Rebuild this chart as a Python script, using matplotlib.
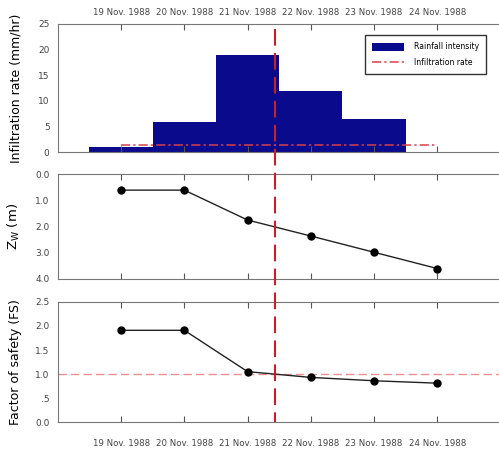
import matplotlib.pyplot as plt
import matplotlib.transforms as mtransforms
from matplotlib.lines import Line2D

dates = ['19 Nov. 1988', '20 Nov. 1988', '21 Nov. 1988',
         '22 Nov. 1988', '23 Nov. 1988', '24 Nov. 1988']
day = [1, 2, 3, 4, 5, 6]
rainfall = [1.0, 5.8, 18.9, 12.0, 6.5, 0.1]
infiltration = [1.3, 1.3]
infil_days = [1, 6]
zw = [0.61, 0.61, 1.75, 2.36, 2.98, 3.6]
fs = [1.91, 1.91, 1.05, 0.93, 0.86, 0.81]
failure_day = 3.43

plt.rcParams['font.family'] = 'DejaVu Sans'
tick_col = '#444444'

fig = plt.figure(figsize=(4.99, 4.5), dpi=100)
ax1 = fig.add_axes([0.116, 0.662, 0.887, 0.285])
ax2 = fig.add_axes([0.116, 0.380, 0.887, 0.233])
ax3 = fig.add_axes([0.116, 0.062, 0.887, 0.267])

# rainfall + infiltration
bars = ax1.bar(day, rainfall, width=1.0, color='#0a0a8c', label='Rainfall intensity')
infl, = ax1.plot(infil_days, infiltration, color='#d9404a', lw=1.1,
                 dashes=[6, 2, 1.5, 2], label='Infiltration rate')
ax1.set_ylim(0, 25)
ax1.set_yticks([0, 5, 10, 15, 20, 25])
ax1.set_ylabel('Infiltration rate (mm/hr)', fontsize=9)
ax1.legend([bars, infl], ['Rainfall intensity', 'Infiltration rate'],
           loc='upper right', bbox_to_anchor=(0.975, 0.94), fontsize=5.5,
           fancybox=False, edgecolor='#333333', framealpha=1,
           handlelength=4.2, handleheight=1.3, borderpad=0.9,
           labelspacing=0.9, handletextpad=1.3)

# depth of wetting front
ax2.plot(day, zw, color='#222222', lw=1.0, marker='o', markersize=5,
         markerfacecolor='black', markeredgecolor='black')
ax2.set_ylim(4.0, 0.0)
ax2.set_yticks([0, 1, 2, 3, 4])
ax2.set_yticklabels(['0.0', '1.0', '2.0', '3.0', '4.0'])
ax2.set_ylabel(r'$\mathregular{Z_W}$ (m)', fontsize=9.5)

# factor of safety
ax3.axhline(1.0, color='#ec8f8f', lw=1.0, dashes=[6, 3])
ax3.plot(day, fs, color='#222222', lw=1.0, marker='o', markersize=5,
         markerfacecolor='black', markeredgecolor='black')
ax3.set_ylim(0, 2.5)
ax3.set_yticks([0, 0.5, 1.0, 1.5, 2.0, 2.5])
ax3.set_yticklabels(['0.0', '.5', '1.0', '1.5', '2.0', '2.5'])
ax3.set_ylabel('Factor of safety (FS)', fontsize=9)

for ax in (ax1, ax2, ax3):
    ax.set_xlim(0, 7)
    ax.set_xticks(day)
    ax.tick_params(axis='x', direction='in', top=True, bottom=True,
                   labelbottom=False, length=4, width=0.8, color='#555555')
    ax.tick_params(axis='y', direction='in', length=0, labelsize=6.5,
                   labelcolor=tick_col, pad=6)
    for s in ax.spines.values():
        s.set_color('#777777')
        s.set_linewidth(0.8)
    ax.spines['right'].set_visible(False)
    ax.yaxis.set_label_coords(-0.08, 0.5)

ax1.set_xticklabels(dates)
ax1.tick_params(axis='x', labeltop=True, labelsize=6.2, labelcolor=tick_col, pad=5)
ax3.set_xticklabels(dates)
ax3.tick_params(axis='x', labelbottom=True, labelsize=6.2, labelcolor=tick_col, pad=12)

# failure time line spanning the three panels
trans = mtransforms.blended_transform_factory(ax1.transData, fig.transFigure)
fig.add_artist(Line2D([failure_day, failure_day], [0.935, 0.062], transform=trans,
                      color='#c8202a', lw=1.5, dashes=[8, 3.5]))

fig.savefig('out.png', dpi=100)
